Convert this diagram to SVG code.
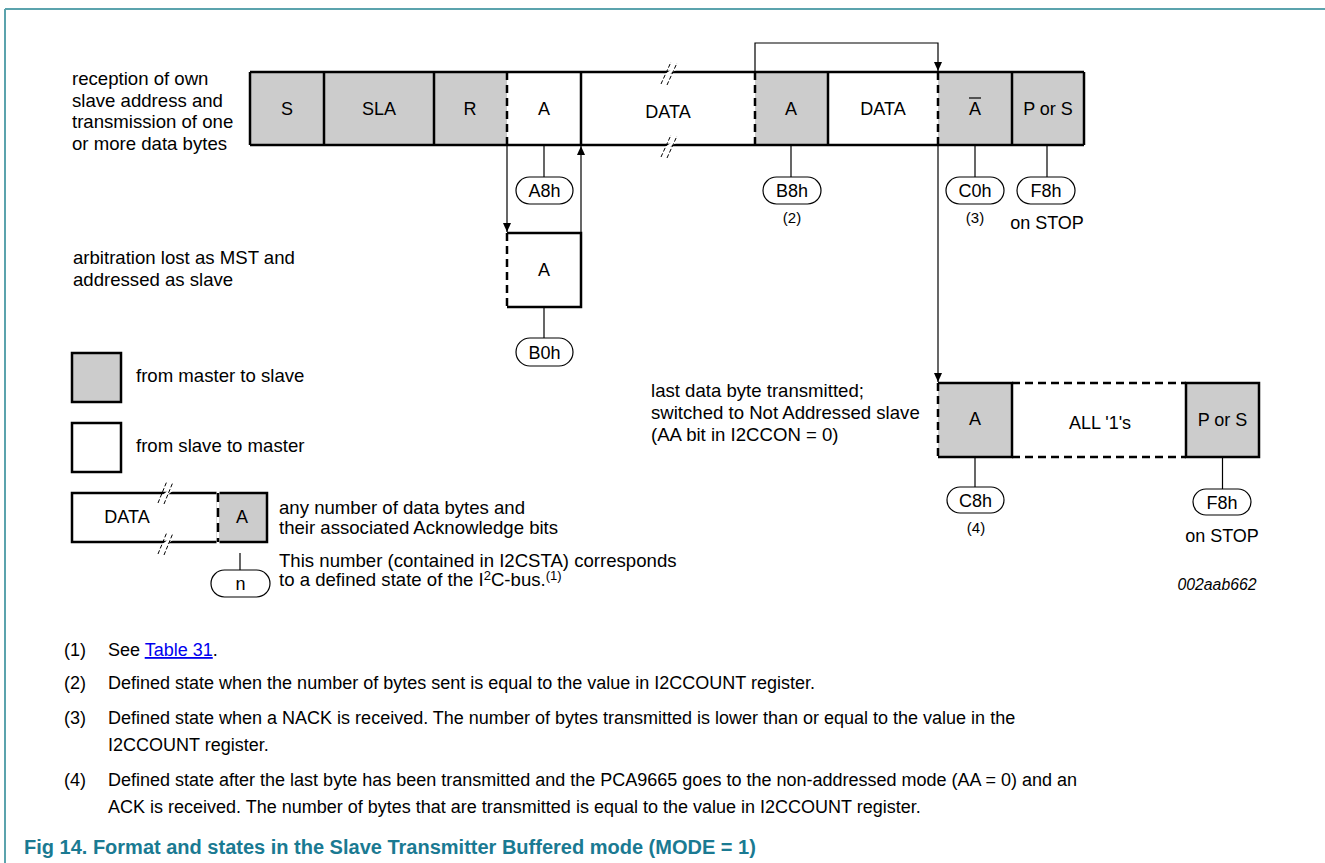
<svg xmlns="http://www.w3.org/2000/svg" width="1325" height="863" viewBox="0 0 1325 863">
<style>
text{font-family:"Liberation Sans",Arial,sans-serif;fill:#000}
.t{font-size:18px}
.lab{font-size:18.6px}
.c{text-anchor:middle}
.s{font-size:15px}
.box{stroke:#000;stroke-width:2.5}
.g{fill:#cccccc}
.w{fill:#fff}
.thick{stroke:#000;stroke-width:2.5;fill:none}
.dash{stroke:#000;stroke-width:2.5;stroke-dasharray:8,5;fill:none}
.thin{stroke:#000;stroke-width:1.2;fill:none}
.pill{fill:#fff;stroke:#000;stroke-width:1.2}
.brk{stroke:#000;stroke-width:1;stroke-dasharray:4,2;fill:none}
.fn{font-size:18px}
</style>
<defs>
<marker id="ah" markerWidth="10" markerHeight="10" refX="9" refY="5" orient="auto" markerUnits="userSpaceOnUse">
<path d="M0,1 L9,5 L0,9 z" fill="#000"/>
</marker>
</defs>
<rect width="1325" height="863" fill="#fff"/>
<g id="frame">
<line x1="5" y1="9" x2="1325" y2="9" stroke="#5ba3ad" stroke-width="2"/>
<line x1="5" y1="9" x2="5" y2="863" stroke="#5ba3ad" stroke-width="2"/>
</g>

<g id="label-reception">
<text class="lab" x="72" y="85">reception of own</text>
<text class="lab" x="72" y="107">slave address and</text>
<text class="lab" x="72" y="128">transmission of one</text>
<text class="lab" x="72" y="150">or more data bytes</text>
</g>

<g id="row-top">
<rect class="g" x="250" y="72" width="257" height="73"/>
<rect class="w" x="507" y="72" width="248" height="73"/>
<rect class="g" x="755" y="72" width="73" height="73"/>
<rect class="w" x="828" y="72" width="110" height="73"/>
<rect class="g" x="938" y="72" width="146" height="73"/>
<line class="thick" x1="250" y1="72" x2="1084" y2="72"/>
<line class="thick" x1="250" y1="145" x2="1084" y2="145"/>
<line class="thick" x1="250" y1="72" x2="250" y2="145"/>
<line class="thick" x1="324" y1="72" x2="324" y2="145"/>
<line class="thick" x1="434" y1="72" x2="434" y2="145"/>
<line class="dash" x1="507" y1="72" x2="507" y2="145"/>
<line class="thick" x1="581" y1="72" x2="581" y2="145"/>
<line class="dash" x1="755" y1="72" x2="755" y2="145"/>
<line class="thick" x1="828" y1="72" x2="828" y2="145"/>
<line class="dash" x1="938" y1="72" x2="938" y2="145"/>
<line class="thick" x1="1012" y1="72" x2="1012" y2="145"/>
<line class="thick" x1="1084" y1="72" x2="1084" y2="145"/>
<polygon points="663,75 671,70 676,70 668,75" fill="#fff"/>
<polygon points="663,148 671,143 676,143 668,148" fill="#fff"/>
<line class="brk" x1="661" y1="84" x2="671" y2="62"/>
<line class="brk" x1="667" y1="85" x2="677" y2="63"/>
<line class="brk" x1="661" y1="157" x2="671" y2="135"/>
<line class="brk" x1="667" y1="158" x2="677" y2="136"/>
<text class="t c" x="287" y="115">S</text>
<text class="t c" x="379" y="115">SLA</text>
<text class="t c" x="470" y="115">R</text>
<text class="t c" x="544" y="115">A</text>
<text class="t c" x="668" y="118">DATA</text>
<text class="t c" x="791" y="115">A</text>
<text class="t c" x="883" y="115">DATA</text>
<text class="t c" x="975" y="115">A</text>
<line x1="969" y1="98" x2="981" y2="98" stroke="#000" stroke-width="1.2"/>
<text class="t c" x="1048" y="115">P or S</text>
</g>

<g id="state-A8h">
<line class="thin" x1="544" y1="145" x2="544" y2="177"/>
<rect class="pill" x="516" y="177" width="57" height="27" rx="13.5"/>
<text class="t c" x="544.5" y="197">A8h</text>
</g>
<g id="state-B8h">
<line class="thin" x1="791" y1="145" x2="791" y2="177"/>
<rect class="pill" x="763" y="177" width="58" height="27" rx="13.5"/>
<text class="t c" x="792" y="197">B8h</text>
<text class="s c" x="792" y="223">(2)</text>
</g>
<g id="state-C0h">
<line class="thin" x1="975" y1="145" x2="975" y2="177"/>
<rect class="pill" x="946" y="177" width="58" height="27" rx="13.5"/>
<text class="t c" x="975" y="197">C0h</text>
<text class="s c" x="975" y="223">(3)</text>
</g>
<g id="state-F8h-top">
<line class="thin" x1="1047" y1="145" x2="1047" y2="177"/>
<rect class="pill" x="1017" y="177" width="58" height="27" rx="13.5"/>
<text class="t c" x="1046" y="197">F8h</text>
<text class="t c" x="1047" y="229">on STOP</text>
</g>

<g id="label-arbitration">
<text class="lab" x="73" y="264">arbitration lost as MST and</text>
<text class="lab" x="73" y="286">addressed as slave</text>
</g>

<g id="box-arb-A">
<rect class="w" x="507" y="233" width="74" height="74"/>
<polyline class="thick" points="507,233 581,233 581,307 507,307"/>
<line class="dash" x1="507" y1="233" x2="507" y2="307"/>
<text class="t c" x="544" y="276">A</text>
</g>
<g id="state-B0h">
<line class="thin" x1="544" y1="307" x2="544" y2="338"/>
<rect class="pill" x="516" y="338" width="57" height="28" rx="14"/>
<text class="t c" x="544.5" y="358.5">B0h</text>
</g>

<g id="label-last">
<text class="lab" x="651" y="397">last data byte transmitted;</text>
<text class="lab" x="651" y="419">switched to Not Addressed slave</text>
<text class="lab" x="651" y="441">(AA bit in I2CCON = 0)</text>
</g>

<g id="row-bottom">
<rect class="g" x="938" y="383" width="74" height="74"/>
<rect class="w" x="1012" y="383" width="174" height="74"/>
<rect class="g" x="1186" y="383" width="73" height="74"/>
<polyline class="thick" points="938,383 1012,383 1012,457 938,457"/>
<line class="dash" x1="938" y1="383" x2="938" y2="457"/>
<line class="dash" x1="1012" y1="383" x2="1186" y2="383"/>
<line class="dash" x1="1012" y1="457" x2="1186" y2="457"/>
<rect class="thick" x="1186" y="383" width="73" height="74"/>
<text class="t c" x="975" y="425">A</text>
<text class="t c" x="1100" y="429">ALL '1's</text>
<text class="t c" x="1222.5" y="425.5">P or S</text>
</g>
<g id="state-C8h">
<line class="thin" x1="975" y1="457" x2="975" y2="487"/>
<rect class="pill" x="947" y="487" width="57" height="26" rx="13"/>
<text class="t c" x="975.5" y="506.5">C8h</text>
<text class="s c" x="976" y="532.5">(4)</text>
</g>
<g id="state-F8h-bottom">
<line class="thin" x1="1222.5" y1="457" x2="1222.5" y2="489"/>
<rect class="pill" x="1193" y="489" width="58" height="26" rx="13"/>
<text class="t c" x="1222" y="508.5">F8h</text>
<text class="t c" x="1222" y="541.5">on STOP</text>
</g>
<text id="code" x="1217" y="589.5" text-anchor="middle" font-size="15.8" font-style="italic" style="font-family:'Liberation Sans',Arial,sans-serif">002aab662</text>

<g id="connectors">
<polyline class="thin" points="755,72 755,43 938,43 938,71" marker-end="url(#ah)"/>
<line class="thin" x1="507" y1="145" x2="507" y2="232" marker-end="url(#ah)"/>
<line class="thin" x1="581" y1="233" x2="581" y2="146" marker-end="url(#ah)"/>
<line class="thin" x1="938" y1="145" x2="938" y2="382" marker-end="url(#ah)"/>
</g>

<g id="legend">
<rect class="box g" x="72" y="353" width="49" height="49"/>
<text class="lab" x="136" y="382">from master to slave</text>
<rect class="box w" x="72" y="423" width="49" height="49"/>
<text class="lab" x="136" y="452">from slave to master</text>
<rect class="w" x="72" y="493" width="146" height="49"/>
<rect class="g" x="218" y="493" width="49" height="49"/>
<polyline class="thick" points="218,493 72,493 72,542 218,542"/>
<rect class="thick" x="218" y="493" width="49" height="49"/>
<line x1="218" y1="491" x2="218" y2="544" stroke="#fff" stroke-width="3"/>
<line class="dash" x1="218" y1="493" x2="218" y2="542" style="stroke-dasharray:9,6"/>
<polygon points="161,496 169,490 174,490 166,496" fill="#fff"/>
<polygon points="161,545 169,539 174,539 166,545" fill="#fff"/>
<line class="brk" x1="158" y1="503" x2="167" y2="481"/>
<line class="brk" x1="164" y1="504" x2="173" y2="482"/>
<line class="brk" x1="158" y1="554" x2="167" y2="532"/>
<line class="brk" x1="164" y1="555" x2="173" y2="533"/>
<text class="t c" x="127" y="523">DATA</text>
<text class="t c" x="242" y="523">A</text>
<text class="lab" x="279" y="514">any number of data bytes and</text>
<text class="lab" x="279" y="534">their associated Acknowledge bits</text>
<line class="thin" x1="240" y1="553" x2="240" y2="570"/>
<rect class="pill" x="211" y="570" width="59" height="27" rx="13.5"/>
<text class="t c" x="240.5" y="590">n</text>
<text class="lab" x="279" y="567">This number (contained in I2CSTA) corresponds</text>
<text class="lab" x="279" y="585.5">to a defined state of the I<tspan font-size="13" dy="-6">2</tspan><tspan dy="6">C-bus.</tspan><tspan font-size="13" dy="-6">(1)</tspan></text>
</g>

<g id="footnotes">
<text class="fn" x="64" y="656">(1)</text>
<text class="fn" x="108" y="656">See <tspan text-decoration="underline" style="fill:#0000ee">Table 31</tspan>.</text>
<text class="fn" x="64" y="689">(2)</text>
<text class="fn" x="108" y="689">Defined state when the number of bytes sent is equal to the value in I2CCOUNT register.</text>
<text class="fn" x="64" y="724">(3)</text>
<text class="fn" x="108" y="724">Defined state when a NACK is received. The number of bytes transmitted is lower than or equal to the value in the</text>
<text class="fn" x="108" y="751">I2CCOUNT register.</text>
<text class="fn" x="64" y="786">(4)</text>
<text class="fn" x="108" y="786">Defined state after the last byte has been transmitted and the PCA9665 goes to the non-addressed mode (AA = 0) and an</text>
<text class="fn" x="108" y="813">ACK is received. The number of bytes that are transmitted is equal to the value in I2CCOUNT register.</text>
<text x="24" y="854" font-size="20" font-weight="bold" style="fill:#1a7a92">Fig 14. Format and states in the Slave Transmitter Buffered mode (MODE = 1)</text>
</g>
</svg>
